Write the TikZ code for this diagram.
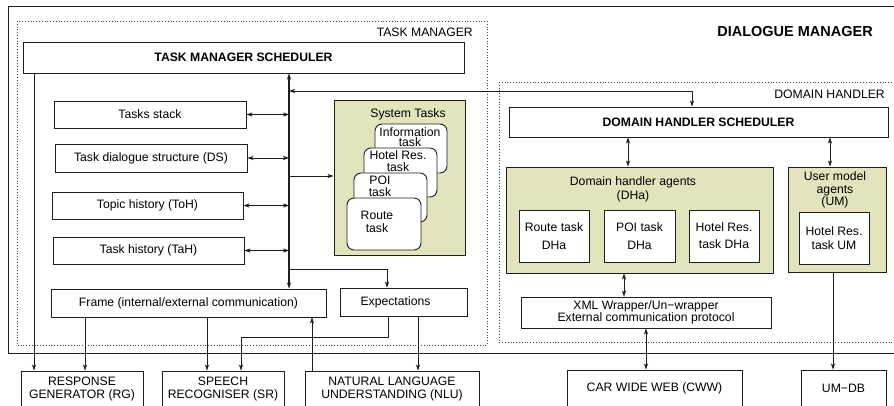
\documentclass[tikz,border=0pt]{standalone}
\usepackage{fontspec}
\setmainfont{Liberation Sans}
\usetikzlibrary{arrows.meta,calc}
\definecolor{agentfill}{RGB}{227,227,188}
\definecolor{linecol}{RGB}{30,30,30}
\begin{document}
\begin{tikzpicture}[x=1pt,y=-1pt,
  font=\fontsize{12.2}{12.5}\selectfont,
  box/.style={draw=linecol, line width=0.9pt, fill=white, inner sep=0pt, align=center},
  agent/.style={draw=linecol, line width=0.9pt, fill=agentfill, inner sep=0pt},
  rbox/.style={draw=linecol, line width=0.9pt, fill=white, rounded corners=7pt, inner sep=0pt},
  lbl/.style={inner sep=0pt, align=center},
  tip/.tip={Stealth[length=6pt,width=4pt,inset=1.5pt]},
  arr/.style={-tip, line width=0.8pt, draw=linecol},
  dbl/.style={tip-tip, line width=0.8pt, draw=linecol},
  container/.style={dotted, line width=0.8pt, draw=black!75}]
\useasboundingbox (0,0) rectangle (894,406);
\clip (0,0) rectangle (894,406);

% containers
\draw[line width=1pt, draw=linecol] (8,7) rectangle (910,353);
\draw[container] (17,21) rectangle (487,345);
\draw[container] (499,82) rectangle (910,342);
\node[lbl, anchor=east] (tmlabel) at (473,32) {TASK MANAGER};
\node[lbl, anchor=east, font=\fontsize{14.5}{15}\selectfont\bfseries] (dmlabel) at (873,32) {DIALOGUE MANAGER};
\node[lbl, anchor=east] (dhlabel) at (885,94) {DOMAIN HANDLER};

% task manager
\node[box, minimum width=441pt, minimum height=31pt, font=\fontsize{12.2}{12.5}\selectfont\bfseries] (tms) at (243.5,57.5) {TASK MANAGER SCHEDULER};
\node[box, minimum width=192pt, minimum height=27pt] (stack) at (150,114.5) {Tasks stack};
\node[box, minimum width=192pt, minimum height=28pt] (ds) at (151,158) {Task dialogue structure (DS)};
\node[box, minimum width=191pt, minimum height=27pt] (toh) at (147.5,205.5) {Topic history (ToH)};
\node[box, minimum width=191pt, minimum height=27pt] (tah) at (148.5,250.5) {Task history (TaH)};
\node[box, minimum width=275pt, minimum height=28pt] (frame) at (188.5,303) {Frame (internal/external communication)};
\node[box, minimum width=127pt, minimum height=28pt] (exp) at (403.5,302) {\hspace*{-16pt}Expectations};

% system tasks
\node[agent, minimum width=131pt, minimum height=155pt] (systasks) at (399.5,177.5) {};
\node[lbl] (stl) at (408,114) {System Tasks};
\node[rbox, minimum width=72pt, minimum height=49pt] (info) at (411,148.5) {};
\node[lbl, font=\fontsize{12.2}{10.5}\selectfont] (infot) at (410,137) {Information\\task};
\node[rbox, minimum width=73pt, minimum height=49pt] (hotel) at (400.5,172.5) {};
\node[lbl, font=\fontsize{12.2}{11.5}\selectfont] (hotelt) at (398,161) {Hotel Res.\\task};
\node[rbox, minimum width=73pt, minimum height=49pt] (poi) at (390.5,197.5) {};
\node[lbl] (poit) at (380,186.5) {POI\\task};
\node[rbox, minimum width=74pt, minimum height=52pt] (route) at (384,224) {};
\node[lbl] (routet) at (377,222) {Route\\task};

% external modules
\node[box, minimum width=122pt, minimum height=36pt] (rg) at (82,389) {RESPONSE\\GENERATOR (RG)};
\node[box, minimum width=122pt, minimum height=36pt] (sr) at (223,389) {SPEECH\\RECOGNISER (SR)};
\node[box, minimum width=174pt, minimum height=36pt] (nlu) at (392,389) {NATURAL LANGUAGE\\UNDERSTANDING (NLU)};
\node[box, minimum width=175pt, minimum height=36pt] (cww) at (654.5,388) {CAR WIDE WEB (CWW)};
\node[box, minimum width=85pt, minimum height=36pt] (umdb) at (843.5,388) {UM−DB};

% domain handler
\node[box, minimum width=379pt, minimum height=30pt, font=\fontsize{12.2}{12.5}\selectfont\bfseries] (dhs) at (698.5,122) {DOMAIN HANDLER SCHEDULER};
\node[agent, minimum width=267pt, minimum height=106pt] (dha) at (639.5,220) {};
\node[lbl, font=\fontsize{12.2}{14}\selectfont] (dhal) at (633,189) {Domain handler agents\\(DHa)};
\node[agent, minimum width=98pt, minimum height=105pt] (um) at (837,219.5) {};
\node[lbl, font=\fontsize{12.2}{12.5}\selectfont] (uml) at (835,190) {User model\\agents\\(UM)};
\node[box, minimum width=70pt, minimum height=52pt, font=\fontsize{12.2}{18}\selectfont] (rdha) at (554,236) {Route task\\DHa};
\node[box, minimum width=71pt, minimum height=52pt, font=\fontsize{12.2}{18}\selectfont] (pdha) at (639.5,236) {POI task\\DHa};
\node[box, minimum width=70pt, minimum height=52pt, font=\fontsize{12.2}{17}\selectfont] (hdha) at (724,236) {Hotel Res.\\task DHa};
\node[box, minimum width=70pt, minimum height=52pt, font=\fontsize{12.2}{14}\selectfont] (hum) at (834,238) {Hotel Res.\\task UM};
\node[box, minimum width=250pt, minimum height=31pt] (xml) at (646,312.5) {XML Wrapper/Un−wrapper\\External communication protocol};

% coordinates
\coordinate (bx) at (289,91);
\coordinate (bst) at (289,176);
\coordinate (bexp) at (289,269);
\coordinate (dhx) at (692,0);
\coordinate (ex) at (387,0);
\coordinate (lx) at (34,0);
\coordinate (f1) at (85,0);
\coordinate (f2) at (207,0);
\coordinate (e2) at (388,337);
\coordinate (s2) at (241,0);
\coordinate (n1) at (312,0);
\coordinate (n2) at (418,0);
\coordinate (r1) at (628,0);
\coordinate (r2) at (830,0);
\coordinate (r3) at (624,0);
\coordinate (r4) at (646,0);
\coordinate (r5) at (833,0);

% task manager connectors
\draw[dbl, line width=1.1pt] (tms.south -| bx) -- (frame.north -| bx);
\draw[dbl] (bx) -| (dhs.north -| dhx);
\draw[dbl] (stack.east) -- (stack.east -| bx);
\draw[dbl] (ds.east) -- (ds.east -| bx);
\draw[dbl] (toh.east) -- (toh.east -| bx);
\draw[dbl] (tah.east) -- (tah.east -| bx);
\draw[arr] (bst) -- (systasks.west |- bst);
\draw[arr] (bexp) -| (exp.north -| ex);
\draw[arr] (tms.south -| lx) -- (rg.north -| lx);
\draw[arr] (frame.south -| f1) -- (rg.north -| f1);
\draw[arr] (frame.south -| f2) -- (sr.north -| f2);
\draw[arr] (exp.south -| e2) -- (e2) -| (sr.north -| s2);
\draw[arr] (nlu.north -| n1) -- (frame.south -| n1);
\draw[arr] (exp.south -| n2) -- (nlu.north -| n2);

% domain handler connectors
\draw[dbl] (dhs.south -| r1) -- (dha.north -| r1);
\draw[dbl] (dhs.south -| r2) -- (um.north -| r2);
\draw[dbl] (dha.south -| r3) -- (xml.north -| r3);
\draw[dbl] (xml.south -| r4) -- (cww.north -| r4);
\draw[arr] (um.south -| r5) -- (umdb.north -| r5);
\end{tikzpicture}
\end{document}
